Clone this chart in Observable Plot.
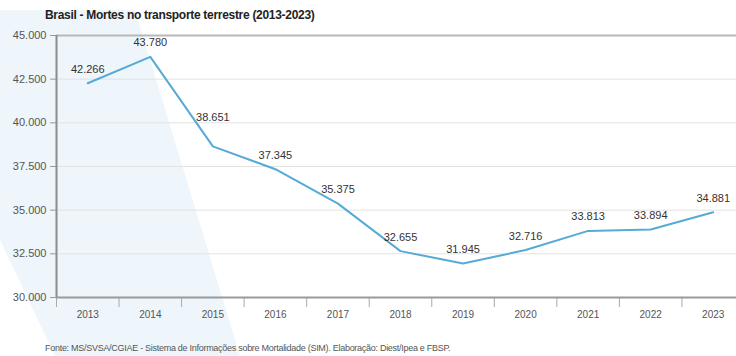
<!DOCTYPE html>
<html>
<head>
<meta charset="utf-8">
<script src="https://cdn.jsdelivr.net/npm/d3@7"></script>
<script src="https://cdn.jsdelivr.net/npm/@observablehq/plot@0.6"></script>
<style>
  html, body { margin: 0; padding: 0; background: #fff; }
  #wrap { position: relative; width: 736px; height: 356px; overflow: hidden;
          font-family: "Liberation Sans", "DejaVu Sans", sans-serif; }
  #bg { position: absolute; left: 0; top: 0; width: 736px; height: 356px; background: #eef5fb;
        clip-path: polygon(0 10px, 135px 10px, 240px 356px, 55px 356px, 0 240px); }
  #title { position: relative; height: 24px; line-height: 30px; padding-left: 45px;
           font-weight: bold; font-size: 12px; letter-spacing: -0.3px; color: #222; white-space: nowrap; }
  #chart { position: relative; }
  #chart svg { background: transparent; display: block; }
  #caption { position: relative; height: 29px; line-height: 42px; padding-left: 45px;
             font-size: 9px; letter-spacing: -0.28px; color: #555; white-space: nowrap; }
</style>
</head>
<body>
<div id="wrap">
  <div id="bg"></div>
  <div id="title"></div>
  <div id="chart"></div>
  <div id="caption"></div>
</div>
<script>
const titleText = "Brasil - Mortes no transporte terrestre (2013-2023)";
const sourceText = "Fonte: MS/SVSA/CGIAE - Sistema de Informações sobre Mortalidade (SIM). Elaboração: Diest/Ipea e FBSP.";
const years = [2013, 2014, 2015, 2016, 2017, 2018, 2019, 2020, 2021, 2022, 2023];
const deaths = [42266, 43780, 38651, 37345, 35375, 32655, 31945, 32716, 33813, 33894, 34881];
const yTicks = [30000, 32500, 35000, 37500, 40000, 42500, 45000];

document.getElementById("title").textContent = titleText;
document.getElementById("caption").textContent = sourceText;

const ptBR = d3.formatLocale({decimal: ",", thousands: ".", grouping: [3], currency: ["R$", ""]});
const fmt = ptBR.format(",d");

const data = years.map((year, i) => ({year, value: deaths[i]}));
const boundaries = [...years.map(y => y - 0.5), years[years.length - 1] + 0.5];
const yMin = yTicks[0], yMax = yTicks[yTicks.length - 1];
const font = "Liberation Sans, DejaVu Sans, sans-serif";

const chart = Plot.plot({
  width: 736,
  height: 303,
  marginTop: 11,
  marginBottom: 30,
  marginLeft: 56,
  marginRight: -8,
  style: {background: "transparent", fontFamily: font, overflow: "visible"},
  x: {type: "linear", domain: [boundaries[0], boundaries[boundaries.length - 1]]},
  y: {domain: [yMin, yMax]},
  marks: [
    Plot.gridY(yTicks.slice(1, -1), {stroke: "#e2e2e2", strokeOpacity: 1}),
    Plot.ruleY([yMax], {stroke: "#b8b8b8", strokeWidth: 2}),
    Plot.axisY({ticks: yTicks, tickFormat: fmt, tickSize: 6, tickPadding: 4, fontSize: 11,
                stroke: "#999", fill: "#555", label: null}),
    Plot.axisX({ticks: boundaries, tickFormat: () => "", tickSize: 10, stroke: "#aaa", label: null}),
    Plot.axisX({ticks: years, tickFormat: d => String(d), tickSize: 0, tickPadding: 13,
                fontSize: 10, fill: "#555", label: null}),
    Plot.ruleY([yMin], {stroke: "#9a9a9a", strokeWidth: 2}),
    Plot.ruleX([boundaries[0]], {stroke: "#8c8c8c", strokeWidth: 2}),
    Plot.line(data, {x: "year", y: "value", stroke: "#55abd6", strokeWidth: 2}),
    Plot.text(data.filter(d => d.year !== 2015), {x: "year", y: "value", text: d => fmt(d.value),
              dy: -14, fontSize: 11, fill: "#333"}),
    Plot.text(data.filter(d => d.year === 2015), {x: "year", y: "value", text: d => fmt(d.value),
              dy: -29, fontSize: 11, fill: "#333"})
  ]
});
document.getElementById("chart").appendChild(chart);
</script>
</body>
</html>
